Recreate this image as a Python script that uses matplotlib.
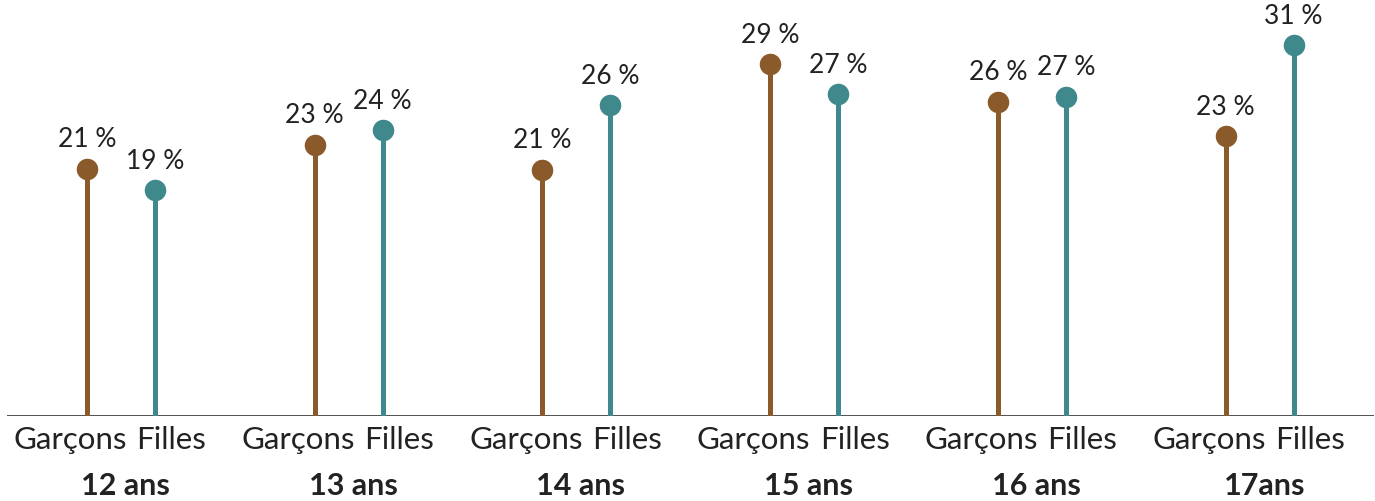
import matplotlib.pyplot as plt
import numpy as np

plt.rcParams['font.family'] = ['Lato', 'DejaVu Sans']

ages = ['12 ans', '13 ans', '14 ans', '15 ans', '16 ans', '17ans']
garcons = [20.6, 22.6, 20.5, 29.3, 26.2, 23.3]
filles = [18.8, 23.8, 25.9, 26.8, 26.6, 30.9]

c_g = '#8b5a2b'
c_f = '#3f898c'
txt = '#222222'

fig = plt.figure(figsize=(13.75, 5.01), dpi=100)
ax = fig.add_axes([0.005, 0.1697, 0.994, 0.8303])

x = np.arange(len(ages))
off = 0.149

for xs, vals, col in [(x - off, garcons, c_g), (x + off, filles, c_f)]:
    ax.vlines(xs, 0, vals, color=col, lw=3.6, zorder=2)
    ax.plot(xs, vals, 'o', color=col, ms=15.5, mew=0, zorder=3)
    for xi, v in zip(xs, vals):
        ax.annotate(f'{int(v + 0.5)} %', (xi, v), xytext=(0, 12), textcoords='offset points',
                    ha='center', va='bottom', fontsize=19, color=txt)

ax.axhline(0, color='#333333', lw=1.2, zorder=1)

for xi, age in zip(x, ages):
    ax.annotate('Garçons', (xi - 0.222, 0), xytext=(0, -7), textcoords='offset points',
                ha='center', va='top', fontsize=22.5, color=txt)
    ax.annotate('Filles', (xi + 0.222, 0), xytext=(0, -7), textcoords='offset points',
                ha='center', va='top', fontsize=22.5, color=txt)
    ax.annotate(age, (xi + 0.02, 0), xytext=(0, -40), textcoords='offset points',
                ha='center', va='top', fontsize=22, fontweight='bold', color=txt)

ax.set_xlim(-0.5, 5.5)
ax.set_ylim(0, 416 / 12)
ax.axis('off')

fig.savefig('out.png', dpi=100)
